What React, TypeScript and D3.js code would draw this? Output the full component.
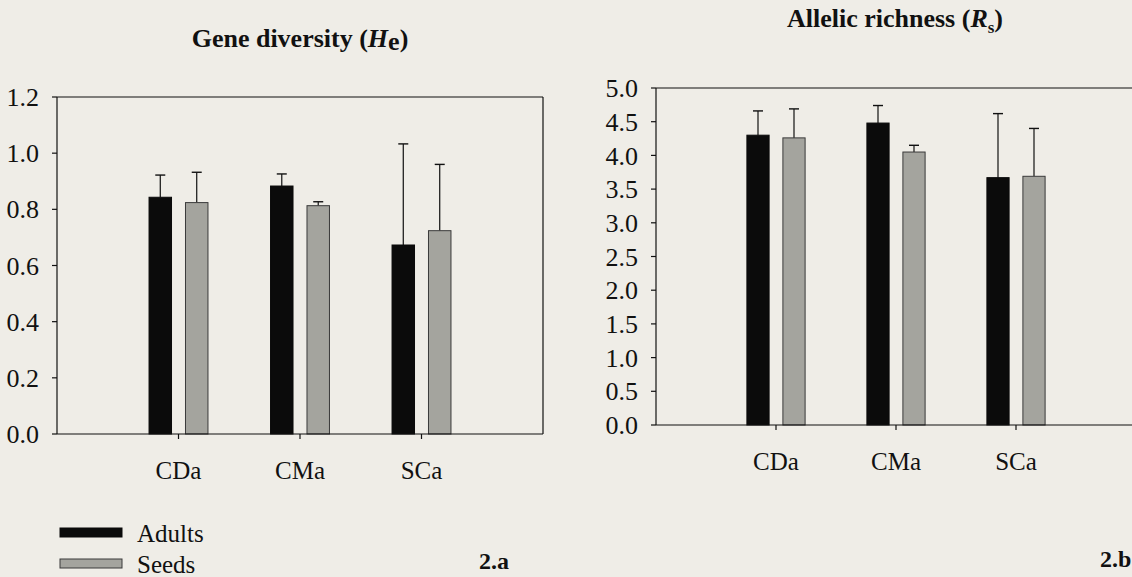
import * as d3 from 'd3';

// populations (category axis)
const populations = ['CDa', 'CMa', 'SCa'];

// gene diversity (He), panel 2.a
const heAdults = [0.843, 0.883, 0.673];
const heAdultsErr = [0.079, 0.043, 0.36];
const heSeeds = [0.824, 0.813, 0.724];
const heSeedsErr = [0.108, 0.014, 0.236];
const heTicks = [0, 0.2, 0.4, 0.6, 0.8, 1.0, 1.2];

// allelic richness (Rs), panel 2.b
const rsAdults = [4.3, 4.48, 3.67];
const rsAdultsErr = [0.36, 0.26, 0.95];
const rsSeeds = [4.26, 4.05, 3.69];
const rsSeedsErr = [0.43, 0.1, 0.71];
const rsTicks = [0, 0.5, 1.0, 1.5, 2.0, 2.5, 3.0, 3.5, 4.0, 4.5, 5.0];

const seriesNames = ['Adults', 'Seeds'];

const BG = '#efede7';
const INK = '#111';
const ADULT_FILL = '#0b0b0b';
const SEED_FILL = '#a4a49e';
const FONT = '"Liberation Serif", "Times New Roman", serif';

type PanelProps = {
  left: number;
  right: number;
  top: number;
  bottom: number;
  yMax: number;
  ticks: number[];
  adults: number[];
  adultsErr: number[];
  seeds: number[];
  seedsErr: number[];
  closeRight: boolean;
};

function Panel({ left, right, top, bottom, yMax, ticks, adults, adultsErr, seeds, seedsErr, closeRight }: PanelProps) {
  // categories sit at 1, 2, 3 on a 0..4 axis, like the original spreadsheet chart
  const x = d3.scaleLinear().domain([0, populations.length + 1]).range([left, right]);
  const y = d3.scaleLinear().domain([0, yMax]).range([bottom, top]);
  const barW = x(0.185) - x(0);
  const offset = 0.15;

  const groups = [
    { vals: adults, errs: adultsErr, fill: ADULT_FILL, stroke: ADULT_FILL, dx: -offset },
    { vals: seeds, errs: seedsErr, fill: SEED_FILL, stroke: '#3a3a3a', dx: offset },
  ];

  return (
    <g>
      {/* frame */}
      <line x1={left} x2={right} y1={top} y2={top} stroke={INK} strokeWidth={1.2} />
      {closeRight && <line x1={right} x2={right} y1={top} y2={bottom} stroke={INK} strokeWidth={1.2} />}

      {groups.map((g, gi) =>
        g.vals.map((v, i) => {
          const cx = x(i + 1 + g.dx);
          const yTop = y(v);
          const yErr = y(v + g.errs[i]);
          return (
            <g key={`${gi}-${i}`}>
              <line x1={cx} x2={cx} y1={yTop} y2={yErr} stroke={INK} strokeWidth={1.2} />
              <line x1={cx - 5} x2={cx + 5} y1={yErr} y2={yErr} stroke={INK} strokeWidth={1.4} />
              <rect
                x={cx - barW / 2}
                y={yTop}
                width={barW}
                height={y(0) - yTop}
                fill={g.fill}
                stroke={g.stroke}
                strokeWidth={1}
              />
            </g>
          );
        })
      )}

      {/* y axis */}
      <line x1={left} x2={left} y1={top} y2={bottom} stroke={INK} strokeWidth={1.2} />
      {ticks.map(t => (
        <g key={t}>
          <line x1={left - 5} x2={left} y1={y(t)} y2={y(t)} stroke={INK} strokeWidth={1.2} />
          <text
            x={left - 18}
            y={y(t)}
            dy="0.35em"
            textAnchor="end"
            fontSize={26}
            fontFamily={FONT}
            fill={INK}
          >
            {t.toFixed(1)}
          </text>
        </g>
      ))}

      {/* x axis */}
      <line x1={left} x2={right} y1={bottom} y2={bottom} stroke={INK} strokeWidth={1.2} />
      {populations.map((p, i) => (
        <g key={p}>
          <line x1={x(i + 1)} x2={x(i + 1)} y1={bottom} y2={bottom + 5} stroke={INK} strokeWidth={1.2} />
          <text x={x(i + 1)} y={bottom + 45} textAnchor="middle" fontSize={25} fontFamily={FONT} fill={INK}>
            {p}
          </text>
        </g>
      ))}
    </g>
  );
}

export default function App() {
  const width = 1132;
  const height = 577;

  return (
    <div style={{ position: 'absolute', left: 0, top: 0 }}>
      <svg width={width} height={height} style={{ display: 'block', background: BG }}>
        <rect width={width} height={height} fill={BG} />

        <text x={300} y={47} textAnchor="middle" fontSize={26} fontWeight="bold" fontFamily={FONT} fill={INK}>
          Gene diversity (<tspan fontStyle="italic">H</tspan>
          <tspan dy={3}>e</tspan>
          <tspan dy={-3}>)</tspan>
        </text>
        <text x={895} y={27} textAnchor="middle" fontSize={26} fontWeight="bold" fontFamily={FONT} fill={INK}>
          Allelic richness (<tspan fontStyle="italic">R</tspan>
          <tspan dy={6} fontSize={17}>s</tspan>
          <tspan dy={-6}>)</tspan>
        </text>

        <Panel
          left={57}
          right={543}
          top={97}
          bottom={434}
          yMax={1.2}
          ticks={heTicks}
          adults={heAdults}
          adultsErr={heAdultsErr}
          seeds={heSeeds}
          seedsErr={heSeedsErr}
          closeRight
        />
        <Panel
          left={656}
          right={1136}
          top={88}
          bottom={425}
          yMax={5}
          ticks={rsTicks}
          adults={rsAdults}
          adultsErr={rsAdultsErr}
          seeds={rsSeeds}
          seedsErr={rsSeedsErr}
          closeRight={false}
        />

        {/* legend */}
        {seriesNames.map((s, i) => (
          <g key={s} transform={`translate(60,${528 + i * 31})`}>
            <rect
              width={62}
              height={9}
              fill={i === 0 ? ADULT_FILL : SEED_FILL}
              stroke={i === 0 ? ADULT_FILL : '#3a3a3a'}
              strokeWidth={1}
            />
            <text x={77} y={14} fontSize={25} fontFamily={FONT} fill={INK}>
              {s}
            </text>
          </g>
        ))}

        <text x={479} y={569} fontSize={24} fontWeight="bold" fontFamily={FONT} fill={INK}>
          2.a
        </text>
        <text x={1100} y={567} fontSize={24} fontWeight="bold" fontFamily={FONT} fill={INK}>
          2.b
        </text>
      </svg>
    </div>
  );
}
